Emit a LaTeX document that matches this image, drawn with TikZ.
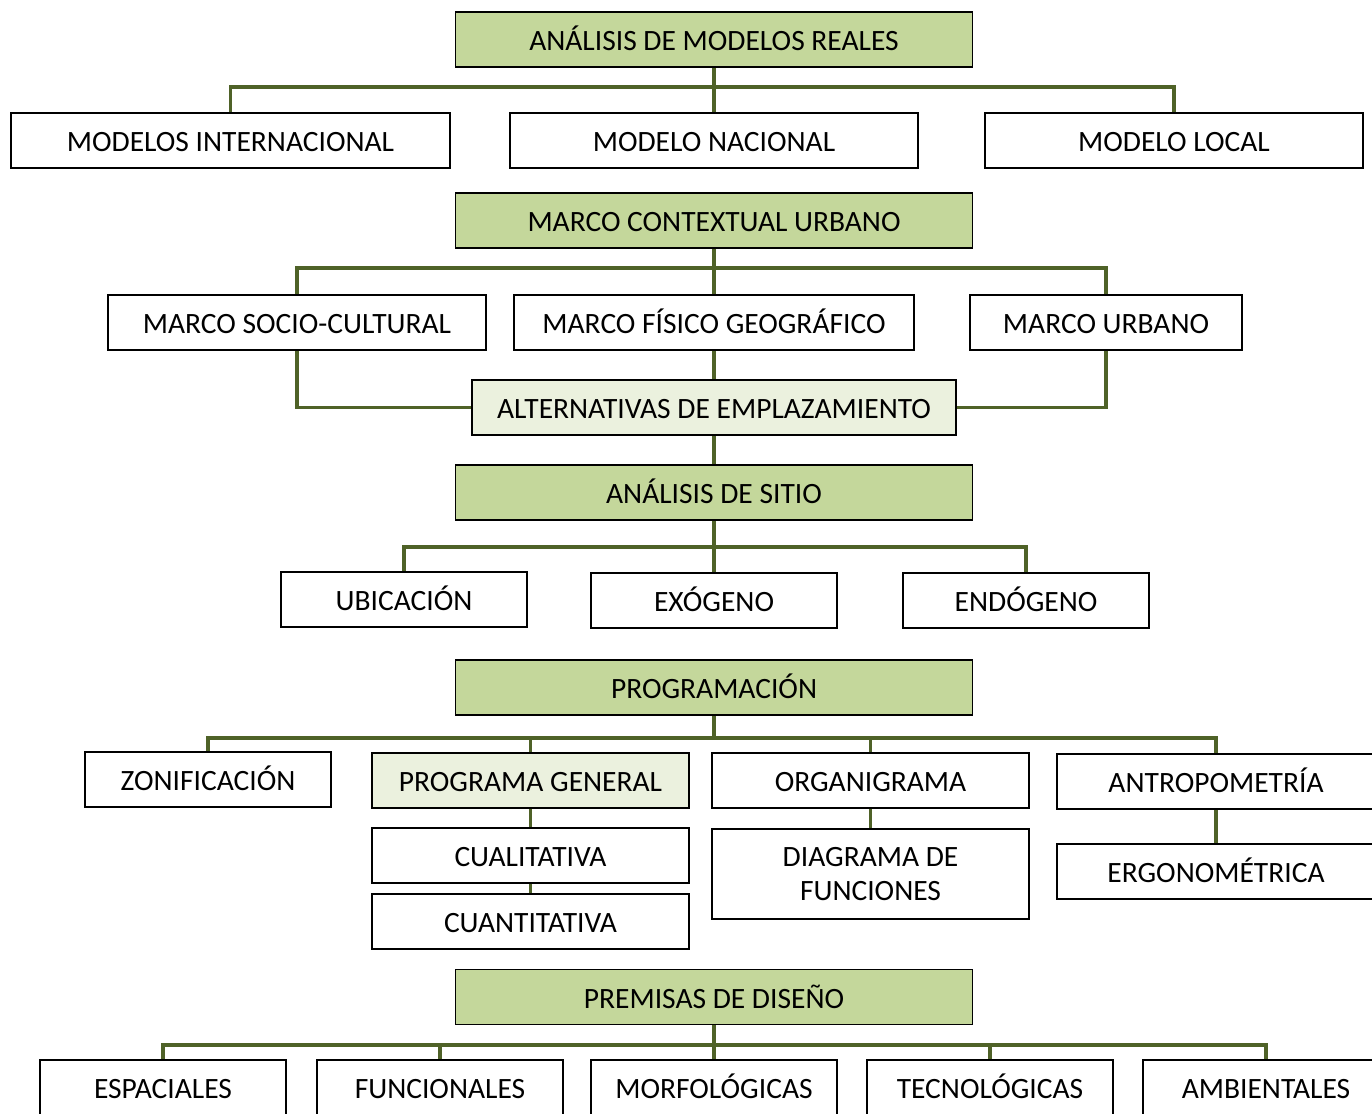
\documentclass[tikz,border=0pt]{standalone}
\usepackage{fontspec}
\setmainfont{Carlito}
\definecolor{hdgreen}{HTML}{C4D79B}
\definecolor{ltgreen}{HTML}{EBF1DE}
\definecolor{lnolive}{HTML}{4F6228}
\begin{document}
\begin{tikzpicture}[x=1pt,y=-1pt,
  basebox/.style={draw=black, line width=1.8pt, fill=white, minimum height=55pt, inner sep=0pt,
    font=\fontsize{29.5}{34}\selectfont, align=center},
  box/.style={basebox, text height=22pt, text depth=0pt},
  hd/.style={box, fill=hdgreen, minimum width=517pt},
  lt/.style={box, fill=ltgreen},
  conn/.style={draw=lnolive, line width=3.2pt}]
\useasboundingbox (0,0) rectangle (1372,1113);
\fill[white] (0,0) rectangle (1372,1113);

% --- block 1
\node[hd] (amr) at (714,39.5) {ANÁLISIS DE MODELOS REALES};
\node[box, minimum width=439pt] (mint) at (230.5,140.5) {MODELOS INTERNACIONAL};
\node[box, minimum width=408pt] (mnac) at (714,140.5) {MODELO NACIONAL};
\node[box, minimum width=378pt] (mloc) at (1174,140.5) {MODELO LOCAL};
\coordinate (b1) at (714,87);
\draw[conn] (amr.south) -- (b1);
\draw[conn] (b1) -- (mnac.north);
\draw[conn] (b1) -| (mint.north);
\draw[conn] (b1) -| (mloc.north);

% --- block 2
\node[hd] (mcu) at (714,220.5) {MARCO CONTEXTUAL URBANO};
\node[box, minimum width=378pt] (msc) at (297,322.5) {MARCO SOCIO-CULTURAL};
\node[box, minimum width=400pt] (mfg) at (714,322.5) {MARCO FÍSICO GEOGRÁFICO};
\node[box, minimum width=272pt] (mur) at (1106,322.5) {MARCO URBANO};
\node[lt, minimum width=484pt] (alt) at (714,407.5) {ALTERNATIVAS DE EMPLAZAMIENTO};
\coordinate (b2) at (714,268);
\draw[conn] (mcu.south) -- (b2);
\draw[conn] (b2) -- (mfg.north);
\draw[conn] (b2) -| (msc.north);
\draw[conn] (b2) -| (mur.north);
\draw[conn] (msc.south) |- (alt.west);
\draw[conn] (mur.south) |- (alt.east);
\draw[conn] (mfg.south) -- (alt.north);

% --- block 3
\node[hd] (asi) at (714,492.5) {ANÁLISIS DE SITIO};
\draw[conn] (alt.south) -- (asi.north);
\node[box, minimum width=246pt] (ubi) at (404,599.5) {UBICACIÓN};
\node[box, minimum width=246pt] (exo) at (714,600.5) {EXÓGENO};
\node[box, minimum width=246pt] (endo) at (1026,600.5) {ENDÓGENO};
\coordinate (b3) at (714,547);
\draw[conn] (asi.south) -- (b3);
\draw[conn] (b3) -- (exo.north);
\draw[conn] (b3) -| (ubi.north);
\draw[conn] (b3) -| (endo.north);

% --- block 4
\node[hd] (prg) at (714,687.5) {PROGRAMACIÓN};
\node[box, minimum width=246pt] (zon) at (208,779.5) {ZONIFICACIÓN};
\node[lt, minimum width=317pt] (pgen) at (530.5,780.5) {PROGRAMA GENERAL};
\node[box, minimum width=317pt] (org) at (870.5,780.5) {ORGANIGRAMA};
\node[box, minimum width=318pt] (ant) at (1216,781.5) {ANTROPOMETRÍA};
\node[box, minimum width=317pt] (cual) at (530.5,855.5) {CUALITATIVA};
\node[box, minimum width=317pt] (cuan) at (530.5,921.5) {CUANTITATIVA};
\node[basebox, minimum width=317pt, minimum height=90pt] (dfun) at (870.5,874) {DIAGRAMA DE\\FUNCIONES};
\node[box, minimum width=318pt] (erg) at (1216,871.5) {ERGONOMÉTRICA};
\coordinate (b4) at (714,738);
\draw[conn] (prg.south) -- (b4);
\draw[conn] (b4) -| (zon.north);
\draw[conn] (b4) -| (pgen.north);
\draw[conn] (b4) -| (org.north);
\draw[conn] (b4) -| (ant.north);
\draw[conn] (pgen.south) -- (cual.north);
\draw[conn] (cual.south) -- (cuan.north);
\draw[conn] (org.south) -- (dfun.north);
\draw[conn] (ant.south) -- (erg.north);

% --- block 5
\node[hd] (pre) at (714,997) {PREMISAS DE DISEÑO};
\node[box, minimum width=246pt] (esp) at (163,1087.5) {ESPACIALES};
\node[box, minimum width=246pt] (fun) at (440,1087.5) {FUNCIONALES};
\node[box, minimum width=246pt] (mor) at (714,1087.5) {MORFOLÓGICAS};
\node[box, minimum width=246pt] (tec) at (990,1087.5) {TECNOLÓGICAS};
\node[box, minimum width=246pt] (amb) at (1266,1087.5) {AMBIENTALES};
\coordinate (b5) at (714,1045);
\draw[conn] (pre.south) -- (b5);
\draw[conn] (b5) -- (mor.north);
\draw[conn] (b5) -| (esp.north);
\draw[conn] (b5) -| (fun.north);
\draw[conn] (b5) -| (tec.north);
\draw[conn] (b5) -| (amb.north);
\end{tikzpicture}
\end{document}
